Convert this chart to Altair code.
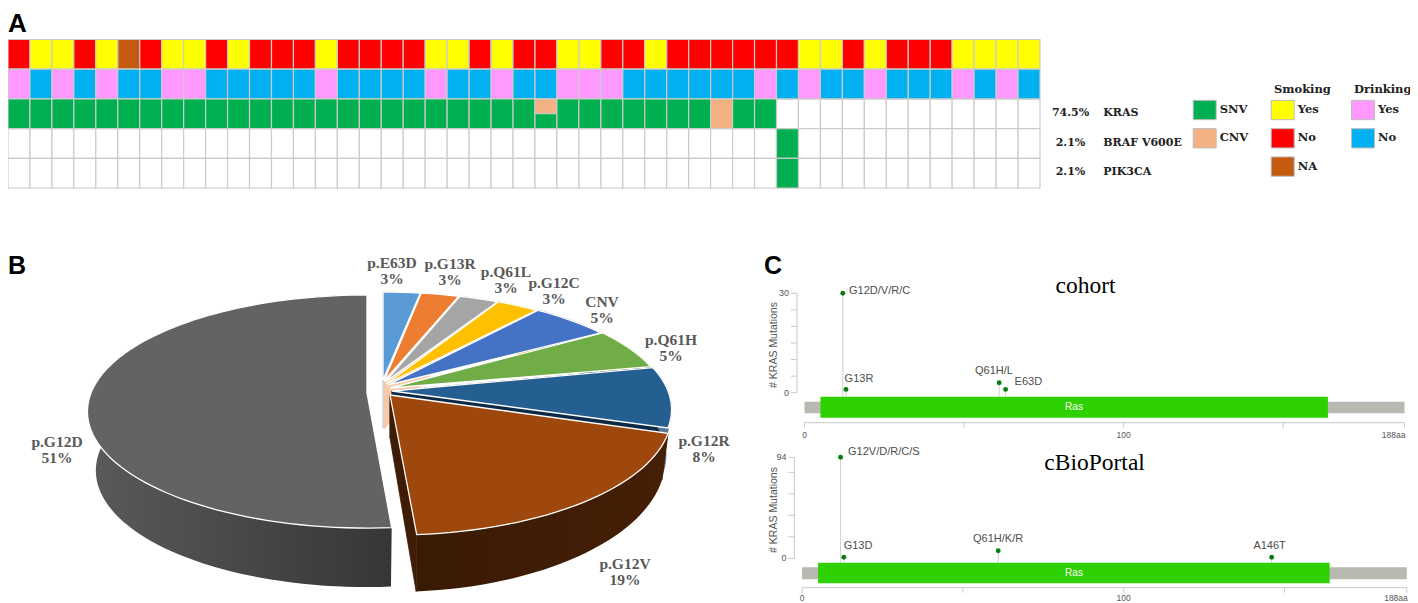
import math
import altair as alt
import pandas as pd

# ---------- Panel A data ----------
smoking = "R Y Y R Y N R Y Y R Y R R R Y R R R R Y Y R Y R R Y Y R R Y R R R R R R Y Y R Y R R R Y Y Y Y".split()
drinking = "P B P B P B B P P B B B B B P B B B B P B B P B B P P P B B B B B B P B P B B P B B B P B P B".split()
kras = ["S"] * 35 + ["-"] * 12
kras[24] = "M"
kras[32] = "C"
braf = ["-"] * 35 + ["S"] + ["-"] * 11
pik3ca = ["-"] * 35 + ["S"] + ["-"] * 11
gene_names = ["KRAS", "BRAF V600E", "PIK3CA"]
gene_pct = ["74.5%", "2.1%", "2.1%"]

# ---------- Panel B data ----------
pie_names = ["p.E63D", "p.G13R", "p.Q61L", "p.G12C", "CNV", "p.Q61H", "p.G12R", "p.G12V", "p.G12D"]
pie_labels = ["3%", "3%", "3%", "3%", "5%", "5%", "8%", "19%", "51%"]
pie_shares = [2.5, 2.55, 2.65, 2.8, 5.3, 5.8, 8.4, 18.8, 51.2]

# ---------- Panel C data ----------
cohort_pos = [12, 13, 61, 63]
cohort_cnt = [30, 1, 3, 1]
cohort_lab = ["G12D/V/R/C", "G13R", "Q61H/L", "E63D"]
cbio_pos = [12, 13, 61, 146]
cbio_cnt = [94, 1, 7, 1]
cbio_lab = ["G12V/D/R/C/S", "G13D", "Q61H/K/R", "A146T"]
ras_domain = [5, 164]
protein_len = [0, 188]

OX, OY = 8, 8
SANS, SERIF, DV = "Liberation Sans", "Liberation Serif", "DejaVu Serif"
layers = []


def txt(s, x, y, size, font=SANS, weight="normal", color="#000000", align="center", angle=0):
    layers.append(
        alt.Chart(alt.Data(values=[{"t": s}]))
        .mark_text(font=font, fontSize=size, fontWeight=weight, color=color, align=align,
                   baseline="middle", angle=angle)
        .encode(x=alt.value(x - OX), y=alt.value(y - OY), text="t:N")
    )


# ========== Panel A ==========
col_x = alt.Scale(domain=[0, 47], range=[0, 1032], nice=False, zero=False)
row_y = alt.Scale(domain=[0, 5], range=[39.5 - OY, 188 - OY], nice=False, zero=False)
GRID = "#cbcbcb"


def cell_rows(seq, row):
    out = []
    for i, v in enumerate(seq):
        out.append({"c0": i, "c1": i + 1, "r0": row, "r1": row + 1, "v": v})
    return out


def cells(rows, color=None):
    enc = dict(
        x=alt.X("c0:Q", scale=col_x, axis=None), x2="c1",
        y=alt.Y("r0:Q", scale=row_y, axis=None), y2="r1",
    )
    if color is None:
        return alt.Chart(pd.DataFrame(rows)).mark_rect(fill="#ffffff", stroke=GRID, strokeWidth=1.2).encode(**enc)
    enc["color"] = color
    return alt.Chart(pd.DataFrame(rows)).mark_rect(stroke=GRID, strokeWidth=1.2, opacity=1).encode(**enc)


SWATCH = "M-1,-0.84H1V0.84H-1Z"


def lg(x, y):
    return alt.Legend(
        orient="none", legendX=x - OX, legendY=y - OY, title=None, padding=0,
        symbolType=SWATCH, symbolSize=529, symbolOpacity=1, symbolStrokeColor="#bdbdbd", symbolStrokeWidth=1,
        labelFont=DV, labelFontWeight="bold", labelFontSize=11.5, labelColor="#222222", labelOffset=3,
        rowPadding=4.3,
    )


# empty grid in the three gene rows
grid_rows = cell_rows(["-"] * 47, 2) + cell_rows(["-"] * 47, 3) + cell_rows(["-"] * 47, 4)
layers.append(cells(grid_rows))

smoke_map = {"Y": "Yes", "R": "No", "N": "NA"}
smoke_rows = cell_rows([smoke_map[v] for v in smoking], 0)
layers.append(cells(smoke_rows, alt.Color(
    "v:N", scale=alt.Scale(domain=["Yes", "No", "NA"], range=["#ffff00", "#ff0000", "#c55a11"]),
    legend=lg(1270.7, 98))))

drink_map = {"P": "Yes", "B": "No"}
drink_rows = cell_rows([drink_map[v] for v in drinking], 1)
layers.append(cells(drink_rows, alt.Color(
    "v:N", scale=alt.Scale(domain=["Yes", "No"], range=["#ff99ff", "#00b0f0"]),
    legend=lg(1351, 98))))

mut_rows = []
for r, seq in zip([2, 3, 4], [kras, braf, pik3ca]):
    for i, v in enumerate(seq):
        if v == "S":
            mut_rows.append({"c0": i, "c1": i + 1, "r0": r, "r1": r + 1, "v": "SNV"})
        elif v == "C":
            mut_rows.append({"c0": i, "c1": i + 1, "r0": r, "r1": r + 1, "v": "CNV"})
        elif v == "M":
            mut_rows.append({"c0": i, "c1": i + 1, "r0": r, "r1": r + 0.5, "v": "CNV"})
            mut_rows.append({"c0": i, "c1": i + 1, "r0": r + 0.5, "r1": r + 1, "v": "SNV"})
layers.append(cells(mut_rows, alt.Color(
    "v:N", scale=alt.Scale(domain=["SNV", "CNV"], range=["#00b050", "#f4b183"]),
    legend=lg(1192.7, 98))))

gene_df = pd.DataFrame({"g": gene_names, "p": gene_pct, "r": [2.48, 3.48, 4.45]})
for field, xpos, al in (("p", 1070.5, "center"), ("g", 1103.3, "left")):
    layers.append(
        alt.Chart(gene_df).mark_text(font=DV, fontWeight="bold", fontSize=11, color="#222222", align=al, baseline="middle")
        .encode(x=alt.value(xpos - OX), y=alt.Y("r:Q", scale=row_y, axis=None), text=f"{field}:N")
    )
txt("Smoking", 1274, 90, 11.5, DV, "bold", "#222222", "left")
txt("Drinking", 1354, 90, 11.5, DV, "bold", "#222222", "left")
txt("A", OX, 24, 26, SANS, "bold", align="left")

# ========== Panel B ==========
sx = alt.Scale(domain=[OX, 1410], range=[0, 1402], nice=False, zero=False)
sy = alt.Scale(domain=[OY, 603], range=[0, 595], nice=False, zero=False)
PIE_A, PIE_B, PIE_K = 276.0, 113.6, 0.159
apexes = [(383, 380), (384, 381), (385, 382), (386, 384), (388, 385), (390, 388), (392, 391), (390, 395), (367, 393)]
centers = [(383, 390), (384, 390), (385, 390), (386, 390), (388, 390), (390, 390), (392, 391), (392, 395), (367, 393)]
top_yf = [1.0] * 7 + [1.037, 1.0]
tops = ["#5b9bd5", "#ed7d31", "#a5a5a5", "#ffc000", "#4472c4", "#70ad47", "#255e91", "#9e480e", "#636363"]
cut_col = ["#c3daef", "#f6c9a8", None, None, None, None, "#0c2a47", "#3e1c05", None]
out_col = ["#c3daef", "#f6c9a8", "#8a8a8a", "#c79500", "#2f5597", "#548235", "#5f7896", "#3e1c05", "#474747"]
extrude = [(0.985, 1.0, 48)] * 6 + [(0.98, 1.0, 46), (0.978, 1.14, 43), (0.97, 1.0, 59)]


def proj(deg, c, xf=1.0, yf=1.0, d=0.0):
    t = math.radians(deg)
    u, v = math.sin(t), math.cos(t)
    s = 1 / (1 + PIE_K * v)
    return c[0] + PIE_A * u * s * xf, c[1] - PIE_B * v * s * yf + d


def poly(points, fill, stroke, sw):
    pts = list(points) + [points[0]]
    df = pd.DataFrame({"x": [p[0] for p in pts], "y": [p[1] for p in pts], "i": range(len(pts))})
    layers.append(
        alt.Chart(df).mark_line(fill=fill, stroke=stroke, strokeWidth=sw, strokeJoin="miter", interpolate="linear")
        .encode(x=alt.X("x:Q", scale=sx, axis=None), y=alt.Y("y:Q", scale=sy, axis=None), order="i:Q")
    )


def arc(a0, a1, c, xf=1.0, yf=1.0, d=0.0):
    n = max(3, int((a1 - a0) / 2))
    return [proj(a0 + (a1 - a0) * j / n, c, xf, yf, d) for j in range(n + 1)]


cum = [0.0]
for sh in pie_shares:
    cum.append(cum[-1] + sh)
tot = cum[-1]
gradients = {
    7: {"gradient": "linear", "x1": 0, "x2": 1, "y1": 0, "y2": 0,
        "stops": [{"offset": 0, "color": "#3a1a04"}, {"offset": 1, "color": "#451f06"}]},
    8: {"gradient": "linear", "x1": 0, "x2": 1, "y1": 0, "y2": 0,
        "stops": [{"offset": 0, "color": "#5a5a5a"}, {"offset": 1, "color": "#363636"}]},
}
for idx in range(9):
    a0, a1 = cum[idx] / tot * 360, cum[idx + 1] / tot * 360
    ap, ce = apexes[idx], centers[idx]
    xf, yf, d = extrude[idx]
    bot_apex = (ap[0], ap[1] + d)
    top_arc = arc(a0, a1, ce, 1.0, top_yf[idx])
    bot_arc = arc(a0, a1, ce, xf, yf, d)
    if cut_col[idx]:
        poly([ap, bot_apex, bot_arc[0], top_arc[0]], cut_col[idx], cut_col[idx], 0.8)
        poly([ap, bot_apex, bot_arc[-1], top_arc[-1]], cut_col[idx], cut_col[idx], 0.8)
    grad = gradients.get(idx)
    poly(top_arc + bot_arc[::-1], grad or out_col[idx], "#ffffff" if grad else out_col[idx], 0 if grad else 0.8)
    poly([ap] + top_arc, tops[idx], "#ffffff", 1.3)

label_xy = [(392, 263), (450, 264), (506, 272), (554, 283), (602, 302), (671, 340), (704, 441), (625, 564), (57, 442)]
for name, pct, (lx, ly) in zip(pie_names, pie_labels, label_xy):
    txt(name, lx, ly, 15.5, SERIF, "bold", "#595959")
    txt(pct, lx, ly + 16, 15.5, SERIF, "bold", "#595959")
txt("B", OX, 266, 25, SANS, "bold", align="left")


# ========== Panel C ==========
def lollipop(pos, cnt, x0, x1, y0, y1, ymax, ticks, tick_labels, bar_t, bar_b, bb_t, bb_b,
             axis_x, axis_y, lab_y, title_span):
    xs = alt.Scale(domain=protein_len, range=[x0 - OX, x1 - OX], nice=False, zero=False)
    ys = alt.Scale(domain=[0, ymax], range=[y0 - OY, y1 - OY], nice=False, zero=False)
    X = lambda f: alt.X(f, scale=xs, axis=None)
    Y = lambda f: alt.Y(f, scale=ys, axis=None)
    df = pd.DataFrame({"pos": pos, "cnt": cnt})
    # lollipop stems
    layers.append(alt.Chart(df).mark_rule(color="#d0d0d0", strokeWidth=1).encode(
        x=X("pos:Q"), y=Y("cnt:Q"), y2=alt.value(bar_t - OY)))
    # backbone
    layers.append(alt.Chart(pd.DataFrame({"s": [protein_len[0]], "e": [protein_len[1]]})).mark_rect(color="#b9b9b2").encode(
        x=X("s:Q"), x2="e", y=alt.value(bb_t - OY), y2=alt.value(bb_b - OY)))
    # Ras domain
    layers.append(alt.Chart(pd.DataFrame({"s": [ras_domain[0]], "e": [ras_domain[1]]})).mark_rect(color="#2ed000").encode(
        x=X("s:Q"), x2="e", y=alt.value(bar_t - OY), y2=alt.value(bar_b - OY)))
    txt("Ras", 1074, (bar_t + bar_b) / 2, 10, SANS, "normal", "#ffffff")
    # dots
    layers.append(alt.Chart(df).mark_circle(color="#0a7d12", size=24, opacity=1).encode(x=X("pos:Q"), y=Y("cnt:Q")))
    # y axis
    layers.append(alt.Chart(pd.DataFrame({"a": [0], "b": [ymax]})).mark_rule(color="#c8c8c8").encode(
        x=alt.value(axis_x - OX), y=Y("a:Q"), y2=alt.Y2("b")))
    tick_df = pd.DataFrame({"t": ticks})
    layers.append(alt.Chart(tick_df).mark_rule(color="#c8c8c8").encode(
        x=alt.value(axis_x - OX), x2=alt.value(axis_x - 6 - OX), y=Y("t:Q")))
    lab_df = pd.DataFrame({"t": tick_labels, "s": [str(t) for t in tick_labels]})
    layers.append(alt.Chart(lab_df).mark_text(font=SANS, fontSize=9, color="#555555", align="right", baseline="middle").encode(
        x=alt.value(axis_x - 8 - OX), y=Y("t:Q"), text="s:N"))
    txt("# KRAS Mutations", 773.7, title_span, 10.5, SANS, "normal", "#555555", angle=270)
    # x axis
    layers.append(alt.Chart(pd.DataFrame({"s": [protein_len[0]], "e": [protein_len[1]]})).mark_rule(color="#c8c8c8").encode(
        x=X("s:Q"), x2="e", y=alt.value(axis_y - OY)))
    xt = pd.DataFrame({"t": [0, 50, 100, 150, 188]})
    layers.append(alt.Chart(xt).mark_rule(color="#c8c8c8").encode(
        x=X("t:Q"), y=alt.value(axis_y - OY), y2=alt.value(axis_y + 5 - OY)))
    xl = pd.DataFrame({"t": [0, 100], "s": ["0", "100"]})
    layers.append(alt.Chart(xl).mark_text(font=SANS, fontSize=8.5, color="#555555", align="center", baseline="middle").encode(
        x=X("t:Q"), y=alt.value(lab_y - OY), text="s:N"))
    layers.append(alt.Chart(pd.DataFrame({"t": [188], "s": ["188aa"]})).mark_text(
        font=SANS, fontSize=8.5, color="#555555", align="right", baseline="middle", dx=1).encode(
        x=X("t:Q"), y=alt.value(lab_y - OY), text="s:N"))


lollipop(cohort_pos, cohort_cnt, 804.5, 1404.5, 392.7, 293.3, 30, [0, 5, 10, 15, 20, 25, 30], [0, 30],
         396.7, 417.7, 401.7, 413.3, 797, 422.7, 434.5, 345)
lollipop(cbio_pos, cbio_cnt, 802, 1406.8, 558.3, 457.3, 94, [0, 20, 40, 60, 80, 94], [0, 94],
         562.7, 583.3, 567.3, 579.3, 794.4, 587.7, 598, 510)

for s, x, y in zip(cohort_lab, [849, 844.6, 975, 1014.6], [290.7, 379, 371, 382]):
    txt(s, x, y, 11, SANS, "normal", "#4d4d4d", "left")
for s, x, y in zip(cbio_lab, [848, 843.7, 973, 1253.4], [452, 545.7, 539, 546]):
    txt(s, x, y, 11, SANS, "normal", "#4d4d4d", "left")
txt("cohort", 1085.5, 286, 23.5, SERIF)
txt("cBioPortal", 1094.6, 463, 23.5, SERIF)
txt("C", 764, 266, 25, SANS, "bold", align="left")

chart = (
    alt.layer(*layers)
    .resolve_scale(x="independent", y="independent", color="independent")
    .properties(width=1402, height=595, padding=0, autosize=alt.AutoSizeParams(type="none"))
    .configure_view(stroke=None)
)
chart.save("out.html", embed_options={"renderer": "svg", "actions": False})
